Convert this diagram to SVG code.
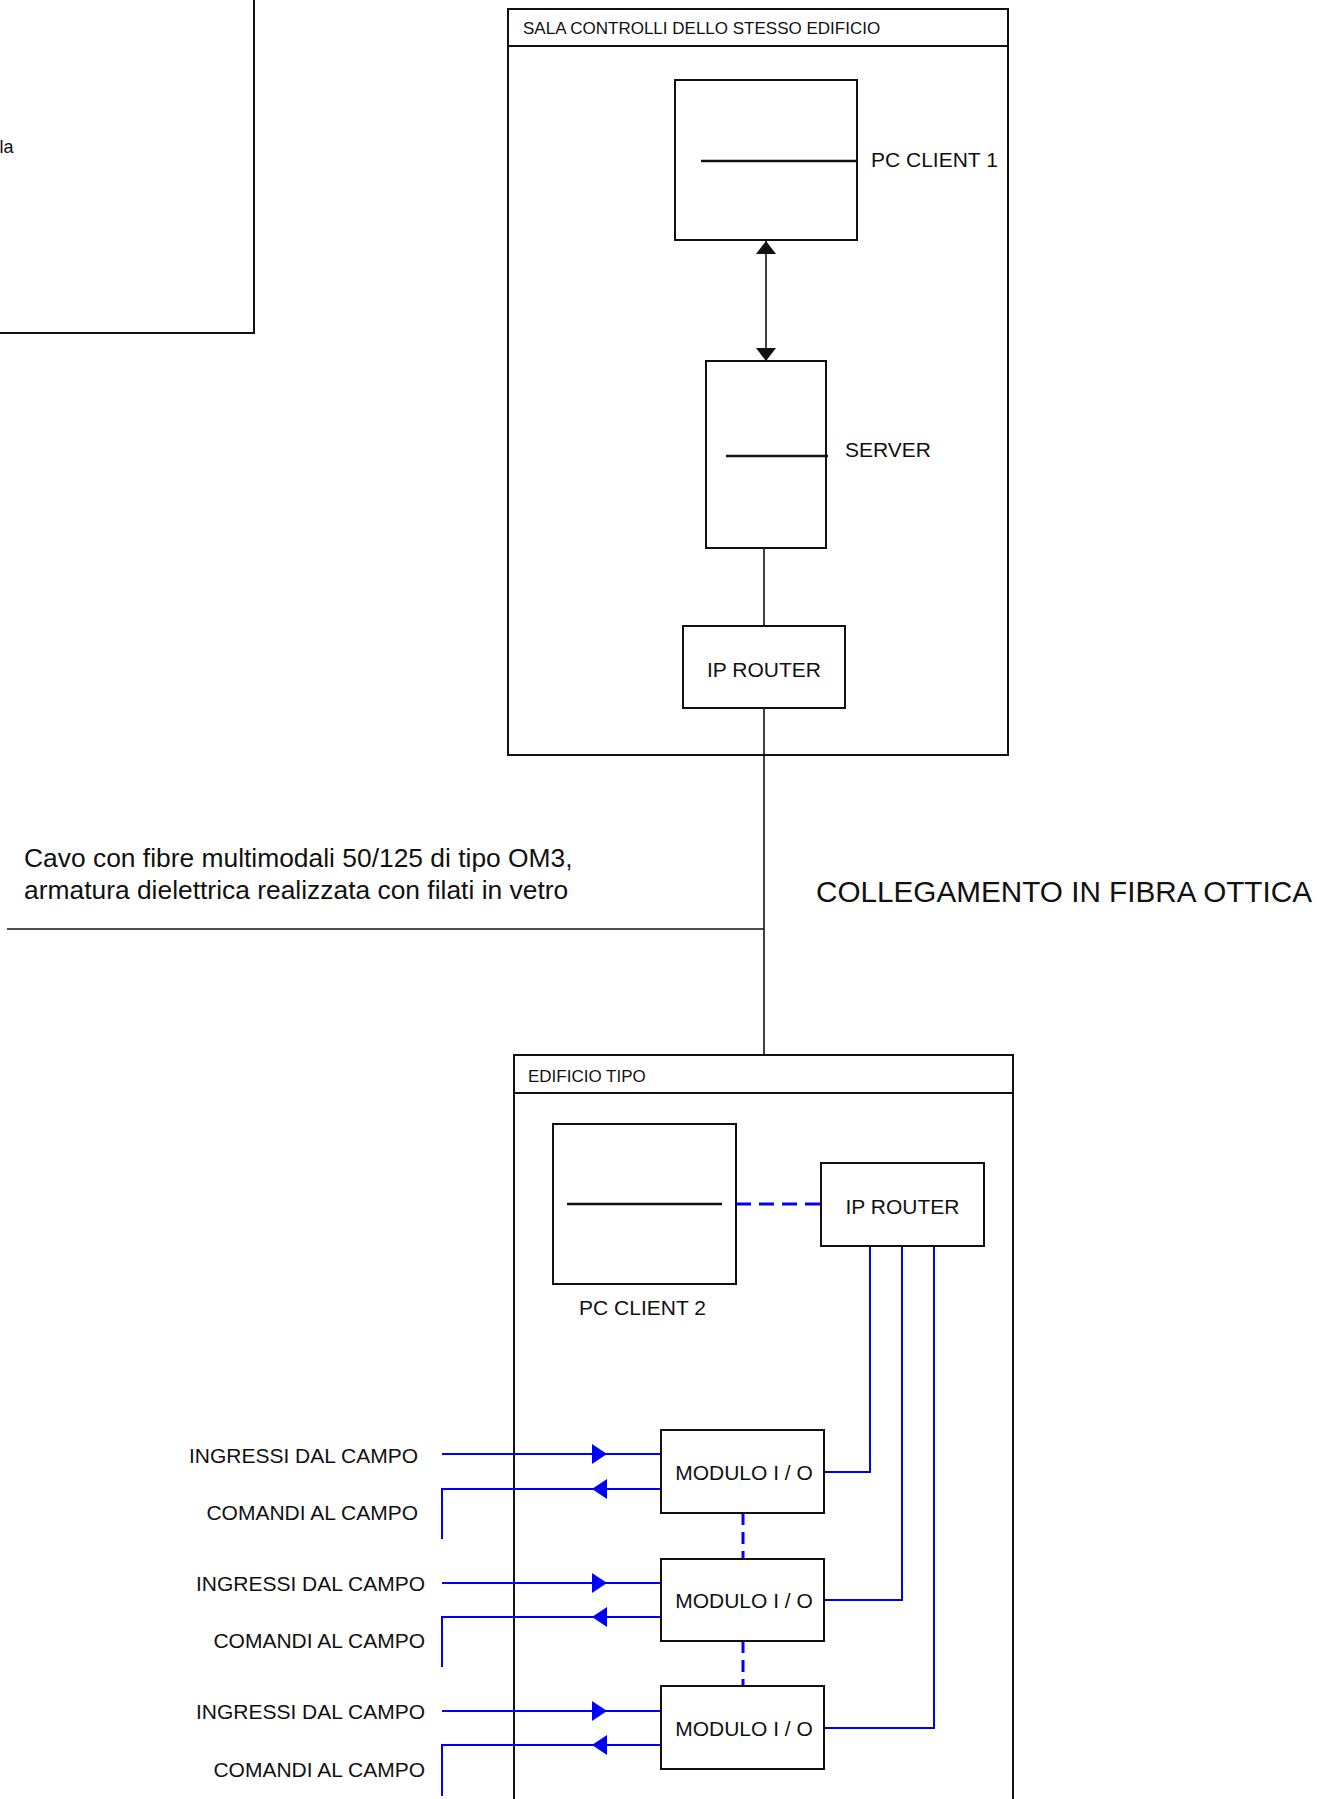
<svg xmlns="http://www.w3.org/2000/svg" width="1321" height="1799" viewBox="0 0 1321 1799">
<style>
text{font-family:"Liberation Sans",Arial,sans-serif;fill:#111}
.box{fill:#fff;stroke:#111;stroke-width:2}
.frame{fill:none;stroke:#111;stroke-width:2}
.ln{fill:none;stroke:#111;stroke-width:1.6}
.scr{fill:none;stroke:#111;stroke-width:2.6}
.bl{fill:none;stroke:#0000ff;stroke-width:2}
.bd{fill:none;stroke:#0000ff;stroke-width:3.2;stroke-dasharray:15 8}
.bdv{fill:none;stroke:#0000ff;stroke-width:3;stroke-dasharray:12 7}
.t17{font-size:17px}
.t21{font-size:21px}
.t26{font-size:26.4px}
.t29{font-size:29.7px}
</style>
<defs>
<marker id="arrK" viewBox="0 0 13 20" refX="13" refY="10" markerWidth="13" markerHeight="20" markerUnits="userSpaceOnUse" orient="auto-start-reverse">
<path d="M0,0 L13,10 L0,20 z" fill="#111"/>
</marker>
<marker id="arrB" viewBox="0 0 15 20" refX="15" refY="10" markerWidth="15" markerHeight="20" markerUnits="userSpaceOnUse" orient="auto">
<path d="M0,0 L15,10 L0,20 z" fill="#0000ff"/>
</marker>
</defs>
<rect width="1321" height="1799" fill="#fff"/>

<g id="legend-box">
<rect class="frame" x="-20" y="-20" width="274" height="353"/>
<text x="13.5" y="153" font-size="18" text-anchor="end">la</text>
</g>

<g id="sala-controlli">
<rect class="frame" x="508" y="9" width="500" height="746"/>
<line class="frame" x1="508" y1="46" x2="1008" y2="46"/>
<text class="t17" x="523" y="34">SALA CONTROLLI DELLO STESSO EDIFICIO</text>
</g>

<g id="edificio-tipo">
<rect class="frame" x="514" y="1055" width="499" height="780"/>
<line class="frame" x1="514" y1="1093" x2="1013" y2="1093"/>
<text class="t17" x="528" y="1082">EDIFICIO TIPO</text>
</g>

<g id="connectors">
<path class="ln" d="M766,300 V241" marker-end="url(#arrK)"/>
<path class="ln" d="M766,300 V361" marker-end="url(#arrK)"/>
<path class="ln" d="M764,548 V626"/>
<path class="ln" d="M764,708 V1055"/>
<path class="ln" d="M7,929 H764"/>
<path class="bd" d="M736,1204 H821"/>
<path class="bl" d="M870,1246 V1472 H824"/>
<path class="bl" d="M902,1246 V1600 H824"/>
<path class="bl" d="M934,1246 V1728 H824"/>
<path class="bdv" d="M743,1513 V1559"/>
<path class="bdv" d="M743,1641 V1686"/>
<path class="bl" d="M442,1454 H607" marker-end="url(#arrB)"/>
<path class="bl" d="M607,1454 H661"/>
<path class="bl" d="M661,1489 H592" marker-end="url(#arrB)"/>
<path class="bl" d="M592,1489 H442 V1539"/>
<path class="bl" d="M442,1583 H607" marker-end="url(#arrB)"/>
<path class="bl" d="M607,1583 H661"/>
<path class="bl" d="M661,1617 H592" marker-end="url(#arrB)"/>
<path class="bl" d="M592,1617 H442 V1667"/>
<path class="bl" d="M442,1711 H607" marker-end="url(#arrB)"/>
<path class="bl" d="M607,1711 H661"/>
<path class="bl" d="M661,1745 H592" marker-end="url(#arrB)"/>
<path class="bl" d="M592,1745 H442 V1796"/>
</g>

<g id="pc-client-1">
<rect class="box" x="675" y="80" width="182" height="160"/>
<line class="scr" x1="701" y1="161" x2="857" y2="161"/>
<text class="t21" x="871" y="167">PC CLIENT 1</text>
</g>

<g id="server">
<rect class="box" x="706" y="361" width="120" height="187"/>
<line class="scr" x1="726" y1="456" x2="828" y2="456"/>
<text class="t21" x="845" y="457">SERVER</text>
</g>

<g id="ip-router-1">
<rect class="box" x="683" y="626" width="162" height="82"/>
<text class="t21" x="764" y="677" text-anchor="middle">IP ROUTER</text>
</g>

<g id="cable-note">
<text class="t26" x="24" y="867">Cavo con fibre multimodali 50/125 di tipo OM3,</text>
<text class="t26" x="24" y="899">armatura dielettrica realizzata con filati in vetro</text>
</g>

<g id="fibre-label">
<text class="t29" x="816" y="902">COLLEGAMENTO IN FIBRA OTTICA</text>
</g>

<g id="pc-client-2">
<rect class="box" x="553" y="1124" width="183" height="160"/>
<line class="scr" x1="567" y1="1204" x2="722" y2="1204"/>
<text class="t21" x="642.5" y="1315" text-anchor="middle">PC CLIENT 2</text>
</g>

<g id="ip-router-2">
<rect class="box" x="821" y="1163" width="163" height="83"/>
<text class="t21" x="902.5" y="1214" text-anchor="middle">IP ROUTER</text>
</g>

<g id="modulo-1">
<rect class="box" x="661" y="1430" width="163" height="83"/>
<text class="t21" x="744" y="1480" text-anchor="middle">MODULO I / O</text>
</g>
<g id="modulo-2">
<rect class="box" x="661" y="1559" width="163" height="82"/>
<text class="t21" x="744" y="1608" text-anchor="middle">MODULO I / O</text>
</g>
<g id="modulo-3">
<rect class="box" x="661" y="1686" width="163" height="83"/>
<text class="t21" x="744" y="1736" text-anchor="middle">MODULO I / O</text>
</g>

<g id="field-labels" class="t21" text-anchor="end">
<text x="418" y="1463">INGRESSI DAL CAMPO</text>
<text x="418" y="1520">COMANDI AL CAMPO</text>
<text x="425" y="1591">INGRESSI DAL CAMPO</text>
<text x="425" y="1648">COMANDI AL CAMPO</text>
<text x="425" y="1719">INGRESSI DAL CAMPO</text>
<text x="425" y="1777">COMANDI AL CAMPO</text>
</g>
</svg>
